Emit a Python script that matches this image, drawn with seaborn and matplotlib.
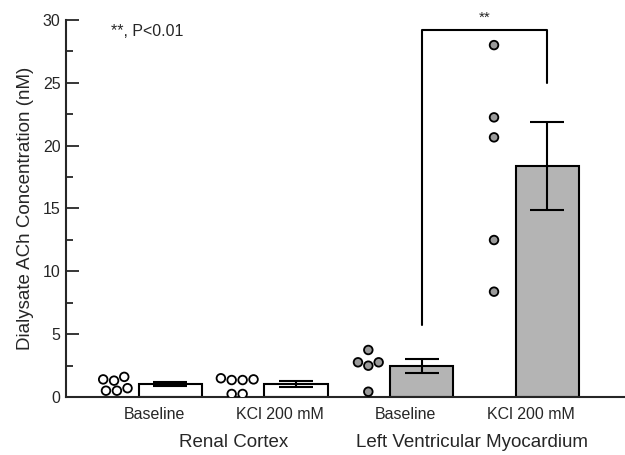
import matplotlib
matplotlib.use("Agg")
import matplotlib.pyplot as plt
import matplotlib.transforms as mtransforms
from matplotlib.ticker import MultipleLocator
import numpy as np
import pandas as pd
import seaborn as sns

# --- data ---
conditions = ["Baseline", "KCl 200 mM", "Baseline", "KCl 200 mM"]
tissue = ["Renal Cortex", "Renal Cortex", "Left Ventricular Myocardium", "Left Ventricular Myocardium"]
group_names = ["Renal Cortex", "Left Ventricular Myocardium"]

means = [1.03, 1.03, 2.45, 18.35]
sems = [0.17, 0.26, 0.55, 3.5]

renal_base_pts = [1.3, 1.6, 1.4, 0.5, 0.5, 0.7]
renal_kcl_pts = [1.35, 1.35, 1.4, 1.49, 0.24, 0.24]
lv_base_pts = [3.74, 2.76, 2.76, 2.49, 0.42]
lv_kcl_pts = [28.0, 22.25, 20.66, 12.49, 8.38]
points = [renal_base_pts, renal_kcl_pts, lv_base_pts, lv_kcl_pts]

sig_text = "**"
legend_text = "**, P<0.01"

# --- layout ---
bar_shift = 0.13
dot_shift = -0.295
cat_pos = np.arange(len(conditions))
bar_pos = cat_pos + bar_shift
dot_pos = cat_pos + dot_shift

palette_bar = {"Renal Cortex": "white", "Left Ventricular Myocardium": "#b4b4b4"}
palette_dot = {"Renal Cortex": "white", "Left Ventricular Myocardium": "#9a9a9a"}

bars = pd.DataFrame({"pos": bar_pos, "mean": means, "tissue": tissue})
dots = pd.DataFrame({
    "pos": np.concatenate([[p] * len(v) for p, v in zip(dot_pos, points)]),
    "value": np.concatenate(points),
    "tissue": np.concatenate([[t] * len(v) for t, v in zip(tissue, points)]),
})

sns.set_style("ticks")
plt.rcParams["font.family"] = ["Liberation Sans", "DejaVu Sans"]

fig = plt.figure(figsize=(6.25, 4.55), dpi=100)
ax = fig.add_axes([0.1056, 0.1275, 0.894, 0.8286])

sns.barplot(data=bars, x="pos", y="mean", hue="tissue", palette=palette_bar,
            native_scale=True, dodge=False, width=0.505, errorbar=None,
            edgecolor="black", linewidth=1.5, legend=False, ax=ax)
ax.errorbar(bar_pos, means, yerr=sems, fmt="none", ecolor="black",
            elinewidth=1.5, capsize=12, capthick=1.5, zorder=5)

sns.swarmplot(data=dots, x="pos", y="value", hue="tissue", palette=palette_dot,
              native_scale=True, size=6.2, edgecolor="black", linewidth=1.3,
              legend=False, ax=ax, zorder=6)

# significance bracket between the two LV bars
x1, x2 = bar_pos[2], bar_pos[3]
ax.plot([x1, x1, x2, x2], [5.7, 29.2, 29.2, 25.0], color="black", lw=1.5, clip_on=False)
ax.text((x1 + x2) / 2, 29.6, sig_text, ha="center", va="bottom", fontsize=11)
ax.text(0.081, 0.97, legend_text, transform=ax.transAxes, ha="left", va="center", fontsize=11.5)

ax.set_xlim(-0.70, 3.745)
ax.set_ylim(0, 30)
ax.yaxis.set_major_locator(MultipleLocator(5))
ax.yaxis.set_minor_locator(MultipleLocator(2.5))
ax.tick_params(axis="y", direction="in", length=9, width=1.3, labelsize=11.5, pad=4)
ax.tick_params(axis="y", which="minor", direction="in", length=5, width=1.3)
ax.set_xticks(cat_pos)
ax.set_xticklabels(conditions, fontsize=11.5)
ax.tick_params(axis="x", length=0, pad=7)
ax.set_xlabel("")
ax.set_ylabel("Dialysate ACh Concentration (nM)", fontsize=13.5, labelpad=6)

sns.despine(ax=ax)
ax.spines["left"].set_linewidth(1.5)
ax.spines["bottom"].set_linewidth(1.5)

trans = mtransforms.blended_transform_factory(ax.transData, ax.transAxes)
group_x = [0.63, 2.53]
for gx, name in zip(group_x, group_names):
    ax.text(gx, -0.122, name, transform=trans, ha="center", va="center", fontsize=13.5)

fig.savefig("out.png", dpi=100)
